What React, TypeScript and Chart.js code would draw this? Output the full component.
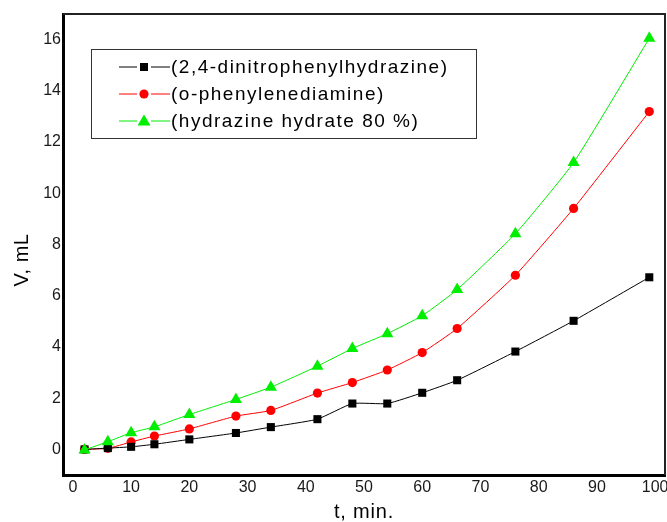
import React, { useEffect, useRef } from "react";
import { Chart, registerables } from "chart.js";

Chart.register(...registerables);

const times = [2, 6, 10, 14, 20, 28, 34, 42, 48, 54, 60, 66, 76, 86, 99];
const dnph = [0, 0.05, 0.1, 0.2, 0.39, 0.64, 0.87, 1.18, 1.79, 1.79, 2.21, 2.7, 3.82, 5.02, 6.72];
const opd = [0, 0.04, 0.29, 0.52, 0.8, 1.3, 1.52, 2.2, 2.61, 3.1, 3.78, 4.72, 6.8, 9.41, 13.19];
const hydrazine = [-0.02, 0.3, 0.65, 0.88, 1.36, 1.95, 2.43, 3.25, 3.94, 4.52, 5.22, 6.24, 8.42, 11.2, 16.05];

const seriesNames = [
  "(2,4-dinitrophenylhydrazine)",
  "(o-phenylenediamine)",
  "(hydrazine hydrate 80 %)",
];
const seriesColors = ["#000000", "#ff0000", "#00ee00"];
const seriesPoints = ["rect", "circle", "triangle"];
const seriesRadius = [5.7, 4.6, 7];

const xTicks = [0, 10, 20, 30, 40, 50, 60, 70, 80, 90, 100];
const yTicks = [0, 2, 4, 6, 8, 10, 12, 14, 16];

const FONT = "'Liberation Sans', Arial, sans-serif";

const zeroPad = () => ({ left: 0, top: 0, right: 0, bottom: 0 });

const framePlugin = {
  id: "frameAndLegend",
  afterDraw(chart: any) {
    const { ctx, chartArea } = chart;
    const { left, right, top, bottom } = chartArea;
    ctx.save();
    ctx.strokeStyle = "#222";
    ctx.lineWidth = 2;
    ctx.beginPath();
    ctx.moveTo(left, top);
    ctx.lineTo(right, top);
    ctx.lineTo(right, bottom);
    ctx.stroke();

    ctx.fillStyle = "#000";
    ctx.font = `20px ${FONT}`;
    ctx.textAlign = "center";
    ctx.textBaseline = "middle";
    (ctx as any).letterSpacing = "0.8px";
    ctx.fillText("t, min.", (left + right) / 2, 512);
    ctx.save();
    ctx.translate(22, 260);
    ctx.rotate(-Math.PI / 2);
    (ctx as any).letterSpacing = "0.5px";
    ctx.fillText("V, mL", 0, 0);
    ctx.restore();

    ctx.lineWidth = 1;
    ctx.strokeStyle = "#333";
    ctx.strokeRect(91.5, 49.5, 385, 89);
    ctx.font = `19px ${FONT}`;
    (ctx as any).letterSpacing = "1.5px";
    ctx.textAlign = "left";
    const rows = [67, 94, 121];
    for (let i = 0; i < 3; i++) {
      const y = rows[i];
      ctx.strokeStyle = seriesColors[i];
      ctx.lineWidth = 1;
      ctx.beginPath();
      ctx.moveTo(119, y);
      ctx.lineTo(137, y);
      ctx.moveTo(151, y);
      ctx.lineTo(170, y);
      ctx.stroke();
      ctx.fillStyle = seriesColors[i];
      ctx.beginPath();
      if (i === 0) {
        ctx.rect(140, y - 4, 8, 8);
      } else if (i === 1) {
        ctx.arc(144, y, 4.6, 0, Math.PI * 2);
      } else {
        ctx.moveTo(144, y - 6.5);
        ctx.lineTo(150.5, y + 4.5);
        ctx.lineTo(137.5, y + 4.5);
        ctx.closePath();
      }
      ctx.fill();
      ctx.fillStyle = "#000";
      ctx.fillText(seriesNames[i], 171, y + 1);
    }
    ctx.restore();
  },
};

export default function App() {
  const ref = useRef<HTMLCanvasElement>(null);
  useEffect(() => {
    if (!ref.current) return;
    const seriesData = [dnph, opd, hydrazine];
    const orders = [1, 2, 0];
    const chart = new Chart(ref.current, {
      type: "line",
      data: {
        datasets: seriesData.map((vals, i) => ({
          label: seriesNames[i],
          data: times.map((t, j) => ({ x: t, y: vals[j] })),
          borderColor: seriesColors[i],
          backgroundColor: seriesColors[i],
          borderWidth: 1,
          pointStyle: seriesPoints[i] as any,
          pointRadius: seriesRadius[i],
          pointBorderWidth: 0,
          tension: 0.15,
          order: orders[i],
        })),
      },
      options: {
        animation: false,
        responsive: false,
        devicePixelRatio: 1,
        layout: { autoPadding: false, padding: { left: 0, top: 14, right: 2, bottom: 0 } },
        plugins: { legend: { display: false }, tooltip: { enabled: false } },
        scales: {
          x: {
            type: "linear",
            min: -1.7,
            max: 101.7,
            grid: { display: false, drawTicks: false },
            border: { display: true, width: 3, color: "#000" },
            ticks: {
              padding: 3,
              color: "#1a1a1a",
              font: { family: FONT, size: 16 },
              maxRotation: 0,
            },
            afterBuildTicks: (s: any) => {
              s.ticks = xTicks.map((v) => ({ value: v }));
            },
            afterFit: (s: any) => {
              s.height = 47;
              s.paddingLeft = 0;
              s.paddingRight = 0;
              s.getPadding = zeroPad;
            },
          },
          y: {
            type: "linear",
            min: -1,
            max: 17,
            grid: { display: false, drawTicks: false },
            border: { display: true, width: 3, color: "#000" },
            ticks: {
              padding: 2,
              color: "#1a1a1a",
              font: { family: FONT, size: 16 },
            },
            afterBuildTicks: (s: any) => {
              s.ticks = yTicks.map((v) => ({ value: v }));
            },
            afterFit: (s: any) => {
              s.width = 63;
              s.paddingTop = 0;
              s.paddingBottom = 0;
              s.getPadding = zeroPad;
            },
          },
        },
      },
      plugins: [framePlugin],
    });
    return () => chart.destroy();
  }, []);
  return (
    <div style={{ position: "absolute", left: 0, top: 0, width: 667, height: 522, background: "#fff", overflow: "hidden" }}>
      <canvas ref={ref} width={667} height={522} />
    </div>
  );
}
